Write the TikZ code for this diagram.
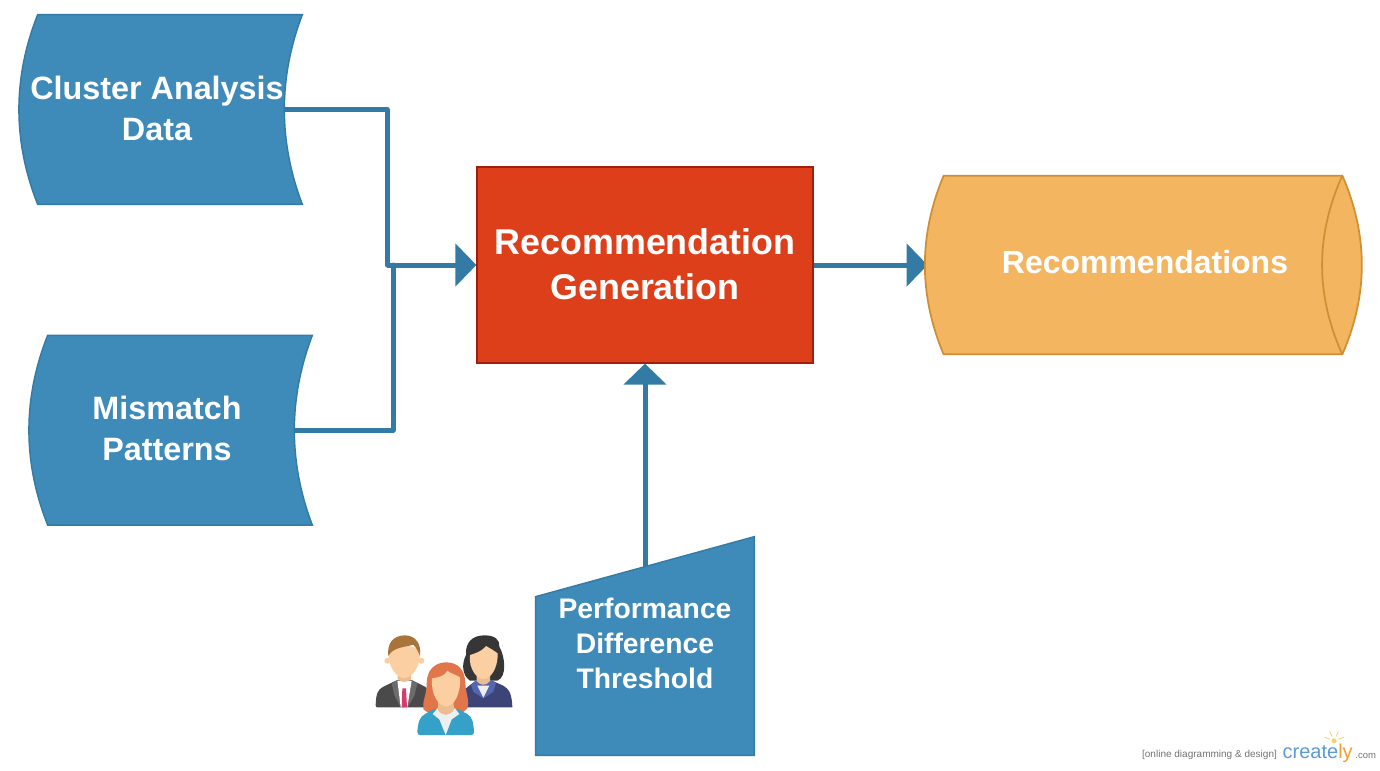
\documentclass[tikz,border=0pt]{standalone}
\usepackage{fontspec}
\setmainfont{Liberation Sans}
\usetikzlibrary{positioning, arrows.meta, calc, backgrounds}

\definecolor{datablue}{HTML}{3E8AB9}
\definecolor{lineblue}{HTML}{337BA5}
\definecolor{genred}{HTML}{DD3F1A}
\definecolor{genedge}{HTML}{9E1F0C}
\definecolor{storefill}{HTML}{F4B560}
\definecolor{storeedge}{HTML}{D08F35}
\definecolor{skin}{HTML}{FBCFA1}
\definecolor{neck}{HTML}{EDBD92}
\definecolor{suit}{HTML}{4A4A4A}
\definecolor{lapel}{HTML}{6C6C6C}
\definecolor{tie}{HTML}{D63A6E}
\definecolor{manhair}{HTML}{A8743A}
\definecolor{darkhair}{HTML}{363636}
\definecolor{navy}{HTML}{3C4478}
\definecolor{navylapel}{HTML}{5566B0}
\definecolor{redhair}{HTML}{E0764A}
\definecolor{teal}{HTML}{35A0C8}
\definecolor{blouse}{HTML}{ECF0F1}
\definecolor{logoblue}{HTML}{5B9BD5}
\definecolor{logoorange}{HTML}{F0A030}
\definecolor{bulbyellow}{HTML}{F8D070}

\newcommand{\datashape}[1]{%
  \draw[shapeblue] ($(#1.north west)+(0.16,0)$) -- ($(#1.north east)+(0.36,0)$)
    .. controls ($(#1.north east)+(-0.12,-1.26)$) and ($(#1.south east)+(-0.12,1.26)$) .. ($(#1.south east)+(0.36,0)$)
    -- ($(#1.south west)+(0.16,0)$)
    .. controls ($(#1.south west)+(-0.34,1.26)$) and ($(#1.north west)+(-0.34,-1.26)$) .. cycle;}

\begin{document}
\begin{tikzpicture}[
  datatext/.style={minimum width=5.08cm, minimum height=3.78cm, inner sep=0pt, align=center, text depth=0.06cm,
                   text=white, font=\fontsize{18.4}{23.4}\selectfont\bfseries},
  gentext/.style={rectangle, draw=genedge, fill=genred, line width=0.7pt, minimum width=6.72cm,
                  minimum height=3.92cm, inner sep=0pt, align=center, text=white, text depth=0.03cm,
                  font=\fontsize{20.4}{25.8}\selectfont\bfseries},
  storetext/.style={minimum width=8.68cm, minimum height=3.56cm, inner sep=0pt, text depth=0.12cm,
                    text=white, font=\fontsize{18.2}{22}\selectfont\bfseries},
  handtext/.style={minimum width=4.36cm, minimum height=4.36cm, inner sep=0pt, align=center, text depth=0.1cm,
                   text=white, font=\fontsize{16.1}{20}\selectfont\bfseries},
  shapeblue/.style={draw=lineblue, fill=datablue, line width=0.8pt},
  arr/.style={-{Triangle[length=0.42cm, width=0.84cm]}, line width=0.1cm, color=lineblue},
  link/.style={line width=0.1cm, color=lineblue, line cap=round, line join=round},
  ray/.style={draw=bulbyellow, line width=0.5pt, line cap=round},
  logotext/.style={inner sep=0pt, text=black!55},
]

\useasboundingbox (0,0) rectangle (27.6,-15.4);

% ---- Inputs, generator, output ----
\node[gentext] (gen) at (12.9,-5.3) {Recommendation\\Generation};
\node[datatext] (cluster) at (3.14,-2.19) {Cluster Analysis\\Data};
\node[datatext, below=2.62cm of cluster, xshift=0.2cm] (mismatch) {Mismatch\\Patterns};
\node[storetext, right=2.28cm of gen] (store) {Recommendations};
\node[handtext, below=3.46cm of gen] (thresh) {Performance\\Difference\\Threshold};

% ---- Connectors ----
\begin{scope}[on background layer]
  \draw[link] (cluster.east) -| (7.74,-5.3);
  \draw[link] (mismatch.east) -| (7.86,-5.3);
  \draw[arr] (7.74,-5.3) -- (gen.west);
  \draw[arr] (gen.east) -- (store.west);
  \draw[arr] (thresh.center) -- (gen.south);

  % ---- Shapes ----
  \datashape{cluster}
  \datashape{mismatch}
  \draw[shapeblue] (thresh.south west) -- ($(thresh.north west)+(0,-1.2)$) -- (thresh.north east) -- (thresh.south east) -- cycle;
  \draw[draw=storeedge, fill=storefill, line width=1pt] ($(store.north west)+(0.32,0)$) -- ($(store.north east)+(-0.4,0)$)
    .. controls ($(store.north east)+(0.12,-1.19)$) and ($(store.south east)+(0.12,1.19)$) .. ($(store.south east)+(-0.4,0)$)
    -- ($(store.south west)+(0.32,0)$)
    .. controls ($(store.south west)+(-0.18,1.19)$) and ($(store.north west)+(-0.18,-1.19)$) .. cycle;
  \draw[draw=storeedge, line width=1pt] ($(store.north east)+(-0.4,0)$)
    .. controls ($(store.north east)+(-0.94,-1.19)$) and ($(store.south east)+(-0.94,1.19)$) .. ($(store.south east)+(-0.4,0)$);
\end{scope}

% ---- People ----
\begin{scope}[shift={(7.2,-12.4)}, x=0.00667cm, y=-0.00667cm]
  % man
  \fill[suit] (47,255) .. controls (48,225) and (52,208) .. (70,200) -- (112,180) -- (155,180) -- (195,200) .. controls (208,208) and (212,225) .. (212,262) -- (52,262) .. controls (49,262) and (47,260) .. (47,255) -- cycle;
  \fill[lapel] (112,182) -- (95,190) -- (103,225) -- (122,262) -- cycle (155,182) -- (172,190) -- (164,225) -- (143,262) -- cycle;
  \fill[white] (112,182) -- (155,182) -- (142,262) -- (122,262) -- cycle;
  \fill[tie] (127,205) -- (138,205) -- (141,262) -- (125,262) -- cycle;
  \fill[neck] (113,160) -- (153,160) -- (153,178) .. controls (140,188) and (126,188) .. (113,178) -- cycle;
  \fill[skin] (82,122) circle (9) (184,122) circle (9);
  \fill[skin] (85,100) .. controls (85,145) and (112,174) .. (133,174) .. controls (154,174) and (180,145) .. (180,100) .. controls (180,70) and (85,70) .. (85,100) -- cycle;
  \fill[manhair] (85,108) .. controls (80,70) and (100,46) .. (135,46) .. controls (165,46) and (185,70) .. (180,108) .. controls (175,95) and (168,82) .. (160,74) .. controls (135,82) and (100,80) .. (85,108) -- cycle;
  % woman
  \fill[darkhair] (330,182) .. controls (305,165) and (305,130) .. (318,105) .. controls (315,70) and (335,45) .. (375,46) .. controls (405,46) and (420,60) .. (418,80) .. controls (435,110) and (442,170) .. (412,182) -- cycle;
  \fill[navy] (305,262) .. controls (305,225) and (312,205) .. (330,195) -- (350,180) -- (392,180) -- (430,197) .. controls (448,207) and (456,225) .. (457,262) -- cycle;
  \fill[navylapel] (350,180) -- (333,195) -- (340,215) -- (370,235) -- (400,215) -- (408,190) -- (392,180) -- cycle;
  \fill[blouse] (352,197) -- (388,197) -- (370,233) -- cycle;
  \fill[neck] (350,165) -- (390,165) -- (390,183) .. controls (378,198) and (362,198) .. (350,183) -- cycle;
  \fill[skin] (330,105) .. controls (325,145) and (350,177) .. (370,177) .. controls (392,177) and (414,145) .. (413,100) .. controls (400,90) and (385,82) .. (378,78) .. controls (365,95) and (345,100) .. (330,105) -- cycle;
  % redhead
  \fill[redhair] (200,190) .. controls (200,150) and (225,127) .. (258,127) .. controls (295,127) and (315,150) .. (316,190) .. controls (318,225) and (330,245) .. (322,265) -- (300,285) -- (215,285) -- (190,268) .. controls (186,245) and (200,225) .. (200,190) -- cycle;
  \fill[teal] (172,335) .. controls (174,305) and (180,290) .. (195,282) -- (220,268) -- (295,268) -- (322,282) .. controls (336,290) and (340,305) .. (342,335) .. controls (342,342) and (338,345) .. (334,345) -- (180,345) .. controls (175,345) and (172,342) .. (172,335) -- cycle;
  \fill[blouse] (218,282) -- (232,265) -- (285,265) -- (298,282) -- (275,298) -- (257,345) -- (238,298) -- cycle;
  \fill[neck] (235,240) -- (280,240) -- (282,268) .. controls (270,290) and (245,290) .. (233,268) -- cycle;
  \fill[skin] (216,175) .. controls (212,222) and (235,259) .. (258,259) .. controls (282,259) and (303,222) .. (300,172) .. controls (285,162) and (270,160) .. (262,152) .. controls (255,168) and (235,172) .. (216,175) -- cycle;
\end{scope}

% ---- Logo ----
\node[logotext, font=\fontsize{5.7}{6}\selectfont] (tagline) at (24.19,-15.09) {[online diagramming \& design]};
\node[logotext, right=0.1cm of tagline, yshift=0.02cm, font=\fontsize{11.4}{13}\selectfont, text=logoblue] (logo) {create\textcolor{logoorange}{ly}};
\node[logotext, right=0.04cm of logo, yshift=-0.04cm, font=\fontsize{5.4}{6}\selectfont] (dotcom) {.com};
\coordinate[above=0.06cm of logo.north east, xshift=-0.38cm] (bulb);
\fill[bulbyellow] (bulb) circle (0.05);
\foreach \ang in {20,65,115,160}
  \draw[ray] ($(bulb)+(\ang:0.1)$) -- ($(bulb)+(\ang:0.2)$);

\end{tikzpicture}
\end{document}
